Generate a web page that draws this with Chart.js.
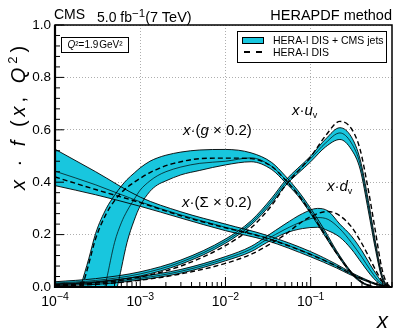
<!DOCTYPE html>
<html>
<head>
<meta charset="utf-8">
<script src="https://cdn.jsdelivr.net/npm/chart.js@4.4.0/dist/chart.umd.min.js"></script>
<style>
  body { margin:0; background:#fff; }
  #wrap { position:relative; width:399px; height:336px; overflow:hidden;
          font-family:"Liberation Sans", Arial, Helvetica, sans-serif; color:#000; }
  #wrap canvas { position:absolute; left:0; top:0; }
  .lbl { position:absolute; white-space:nowrap; line-height:1; }
  .lbl sub { font-size:9px; vertical-align:-3px; }
  .xt { position:absolute; top:291px; width:40px; margin-left:-20px; text-align:center;
        font-size:14px; line-height:1; white-space:nowrap; }
  .xt span { font-size:10.5px; vertical-align:6px; }
  #legend { position:absolute; left:237px; top:31px; width:150px; height:32px;
            border:1px solid #000; background:#fff; box-sizing:border-box; font-size:10.5px; }
  #legend .sw { position:absolute; left:4px; top:5px; width:22px; height:7px;
                background:rgb(24,198,222); border:1px solid #000; box-sizing:border-box; }
  #legend .d { position:absolute; top:19px; width:6px; height:2px; background:#000; }
  #legend .t { position:absolute; left:35px; line-height:1; white-space:nowrap; }
  #qbox { position:absolute; left:61px; top:37px; width:68px; height:16px; border:1px solid #000;
          box-sizing:border-box; font-size:10px; line-height:14px; text-align:center; background:#fff; }
</style>
</head>
<body>
<div id="wrap">
  <canvas id="c" width="399" height="336"></canvas>

  <div class="lbl" style="left:54px;top:7px;font-size:14px">CMS</div>
  <div class="lbl" style="left:97px;top:8px;font-size:14px">5.0 fb<span style="font-size:11.5px;vertical-align:5px">&minus;1</span><span style="font-size:14.5px">(7 TeV)</span></div>
  <div class="lbl" style="right:7px;top:8px;font-size:14.5px">HERAPDF method</div>

  <div id="qbox"><i>Q</i>&sup2;=1.9&#8202;GeV&sup2;</div>

  <div id="legend">
    <div class="sw"></div><div class="t" style="top:3px">HERA-I DIS + CMS jets</div>
    <div class="d" style="left:6px"></div><div class="d" style="left:18px"></div>
    <div class="t" style="top:15px">HERA-I DIS</div>
  </div>

  <div class="lbl" style="left:183px;top:122px;font-size:15px"><i>x</i>·(<i>g</i> × 0.2)</div>
  <div class="lbl" style="left:182px;top:194px;font-size:15px"><i>x</i>·(Σ × 0.2)</div>
  <div class="lbl" style="left:292px;top:102px;font-size:15px"><i>x</i>·<i>u</i><sub>v</sub></div>
  <div class="lbl" style="left:327px;top:178px;font-size:15px"><i>x</i>·<i>d</i><sub>v</sub></div>

  <div class="lbl" style="left:6px;top:190px;font-size:20px;letter-spacing:4px;transform-origin:0 0;transform:rotate(-90deg)"><i>x</i> · <i>f</i> (<i>x</i>, <i>Q</i><span style="font-size:13px;vertical-align:8px">2</span>)</div>
  <div class="lbl" style="left:377px;top:310px;font-size:22px"><i>x</i></div>
</div>

<script>
// x values of each curve, and y values
const gluonX    = [1e-4, 1.5e-4, 2e-4, 2.5e-4, 3e-4, 4e-4, 5e-4, 6e-4, 7e-4, 8.5e-4, 1e-3, 1.3e-3, 1.6e-3, 2e-3, 3e-3, 5e-3, 1e-2, 2e-2, 3.5e-2, 5e-2, 7e-2, 0.1, 0.15, 0.2, 0.3, 0.4, 0.5, 0.6, 0.75, 0.9];
const gluonUp   = [-0.5, -0.17, 0.0, 0.11, 0.205, 0.30, 0.35, 0.385, 0.41, 0.435, 0.455, 0.48, 0.493, 0.503, 0.515, 0.523, 0.525, 0.512, 0.475, 0.425, 0.37, 0.30, 0.21, 0.14, 0.058, 0.02, 0.005, 0, 0, 0];
const gluonMid  = [-1.6, -1.1, -0.7, -0.38, -0.15, 0.025, 0.17, 0.245, 0.29, 0.335, 0.37, 0.405, 0.425, 0.44, 0.458, 0.472, 0.48, 0.493, 0.46, 0.412, 0.36, 0.29, 0.2, 0.135, 0.055, 0.018, 0.004, 0, 0, 0];
const gluonLow  = [-2.5, -2.0, -1.5, -1.1, -0.75, -0.33, -0.06, 0.07, 0.17, 0.255, 0.31, 0.365, 0.39, 0.405, 0.428, 0.445, 0.466, 0.478, 0.448, 0.40, 0.35, 0.28, 0.19, 0.128, 0.05, 0.015, 0.003, 0, 0, 0];
const gluonHera = [-0.6, -0.25, -0.03, 0.09, 0.185, 0.28, 0.33, 0.36, 0.38, 0.40, 0.415, 0.437, 0.45, 0.463, 0.478, 0.49, 0.492, 0.49, 0.46, 0.41, 0.355, 0.285, 0.195, 0.13, 0.055, 0.018, 0.005, 0, 0, 0];

const sigmaX    = [1e-4, 3e-4, 1e-3, 3e-3, 1e-2, 3e-2, 0.1, 0.2, 0.3, 0.45, 0.6, 0.75, 0.9];
const sigmaUp   = [0.526, 0.44, 0.343, 0.287, 0.24, 0.198, 0.135, 0.087, 0.055, 0.028, 0.012, 0.004, 0];
const sigmaMid  = [0.442, 0.39, 0.325, 0.275, 0.228, 0.188, 0.125, 0.08, 0.05, 0.025, 0.01, 0.003, 0];
const sigmaLow  = [0.387, 0.352, 0.308, 0.263, 0.215, 0.178, 0.115, 0.073, 0.045, 0.022, 0.008, 0.002, 0];
const sigmaHera = [0.42, 0.372, 0.322, 0.272, 0.226, 0.187, 0.124, 0.08, 0.05, 0.025, 0.01, 0.003, 0];

const uvX    = [1e-4, 3e-4, 1e-3, 3e-3, 1e-2, 2e-2, 3.5e-2, 5e-2, 0.1, 0.15, 0.22, 0.3, 0.38, 0.475, 0.57, 0.68, 0.78, 0.9];
const uvUp   = [0.02, 0.032, 0.058, 0.103, 0.183, 0.253, 0.34, 0.405, 0.50, 0.565, 0.608, 0.573, 0.488, 0.33, 0.18, 0.053, 0.008, 0];
const uvMid  = [0.015, 0.025, 0.05, 0.095, 0.175, 0.245, 0.33, 0.395, 0.49, 0.55, 0.588, 0.55, 0.47, 0.31, 0.165, 0.045, 0.006, 0];
const uvLow  = [0.01, 0.018, 0.042, 0.087, 0.167, 0.237, 0.32, 0.385, 0.478, 0.535, 0.563, 0.525, 0.45, 0.29, 0.15, 0.038, 0.004, 0];
const uvHera = [0.008, 0.015, 0.038, 0.08, 0.158, 0.226, 0.312, 0.385, 0.497, 0.578, 0.632, 0.605, 0.525, 0.37, 0.22, 0.075, 0.015, 0];

const dvX    = [1e-4, 3e-4, 1e-3, 3e-3, 1e-2, 2e-2, 3e-2, 5e-2, 0.08, 0.12, 0.16, 0.22, 0.3, 0.4, 0.5, 0.6, 0.7, 0.8, 0.9];
const dvUp   = [0.012, 0.02, 0.04, 0.067, 0.116, 0.155, 0.192, 0.24, 0.28, 0.30, 0.29, 0.24, 0.195, 0.138, 0.085, 0.045, 0.015, 0.003, 0];
const dvMid  = [0.008, 0.015, 0.033, 0.06, 0.108, 0.145, 0.18, 0.22, 0.25, 0.265, 0.258, 0.222, 0.17, 0.113, 0.065, 0.03, 0.009, 0.001, 0];
const dvLow  = [0.005, 0.01, 0.027, 0.053, 0.10, 0.135, 0.168, 0.205, 0.223, 0.228, 0.215, 0.19, 0.145, 0.09, 0.048, 0.02, 0.005, 0, 0];
const dvHera = [0.005, 0.01, 0.026, 0.05, 0.09, 0.125, 0.155, 0.2, 0.25, 0.28, 0.288, 0.272, 0.23, 0.165, 0.105, 0.055, 0.02, 0.004, 0];

const xTickValues = [1e-4, 1e-3, 1e-2, 1e-1];
const xTickExp    = ['−4', '−3', '−2', '−1'];

const CYAN = 'rgb(24,198,222)';

function pts(xs, ys) { return xs.map((x, i) => ({ x: x, y: ys[i] })); }

function bandSets(xs, up, mid, low, hera) {
  const base = { pointRadius:0, cubicInterpolationMode:'monotone', borderColor:'#000' };
  return [
    Object.assign({}, base, { data: pts(xs, up),  borderWidth:0.9, fill:false }),
    Object.assign({}, base, { data: pts(xs, low), borderWidth:0.9, fill:'-1', backgroundColor:CYAN }),
    Object.assign({}, base, { data: pts(xs, mid), borderWidth:0.7, fill:false }),
    Object.assign({}, base, { data: pts(xs, hera), borderWidth:1.4, borderDash:[5,3], fill:false })
  ];
}

// frame and inward tick marks, ROOT style
const frameTicks = {
  id: 'frameTicks',
  afterDatasetsDraw(chart) {
    const ctx = chart.ctx, a = chart.chartArea;
    const xs = chart.scales.x, ys = chart.scales.y;
    ctx.save();
    ctx.strokeStyle = '#000';
    ctx.lineWidth = 1;
    ctx.beginPath();
    for (let i = 0; i <= 25; i++) {
      const py = ys.getPixelForValue(i * 0.04);
      const len = i % 5 === 0 ? 9 : 5;
      ctx.moveTo(a.left, py); ctx.lineTo(a.left + len, py);
    }
    for (let e = -4; e <= -1; e++) {
      for (let m = 1; m <= 9; m++) {
        const v = m * Math.pow(10, e);
        if (v > xs.max) continue;
        const px = xs.getPixelForValue(v);
        const len = m === 1 ? 10 : 5;
        ctx.moveTo(px, a.bottom); ctx.lineTo(px, a.bottom - len);
      }
    }
    ctx.stroke();
    ctx.lineWidth = 1.5;
    ctx.strokeRect(a.left, a.top, a.right - a.left, a.bottom - a.top);
    ctx.lineWidth = 2.2;
    ctx.beginPath();
    ctx.moveTo(a.left, a.top); ctx.lineTo(a.left, a.bottom); ctx.lineTo(a.right, a.bottom);
    ctx.stroke();
    ctx.restore();
  }
};

const tickFont = { family:'"Liberation Sans", Arial, Helvetica, sans-serif', size:13.5 };

const chart = new Chart(document.getElementById('c'), {
  type: 'line',
  data: {
    datasets: [].concat(
      bandSets(gluonX, gluonUp, gluonMid, gluonLow, gluonHera),
      bandSets(sigmaX, sigmaUp, sigmaMid, sigmaLow, sigmaHera),
      bandSets(uvX, uvUp, uvMid, uvLow, uvHera),
      bandSets(dvX, dvUp, dvMid, dvLow, dvHera)
    )
  },
  options: {
    responsive:false,
    maintainAspectRatio:false,
    devicePixelRatio:1,
    animation:false,
    layout: { padding: { top:25, right:7, left:0, bottom:0 } },
    plugins: {
      legend: { display:false },
      tooltip: { enabled:false },
      filler: { drawTime:'beforeDatasetsDraw' }
    },
    scales: {
      x: {
        type:'logarithmic',
        min:1e-4, max:0.9,
        afterFit(scale) { scale.height = 49; },
        afterBuildTicks(scale) { scale.ticks = xTickValues.map(v => ({ value:v })); },
        ticks: { display:false },
        grid: { color:'#999', lineWidth:0.8, drawTicks:false },
        border: { display:false, dash:[1,2] }
      },
      y: {
        min:0, max:1,
        afterFit(scale) { scale.width = 55; },
        ticks: { stepSize:0.2, padding:4, color:'#000', font:tickFont, callback(v) { return v.toFixed(1); } },
        grid: { color:'#999', lineWidth:0.8, drawTicks:false },
        border: { display:false, dash:[1,2] }
      }
    }
  },
  plugins: [frameTicks]
});

// x tick labels as text with real superscripts, placed on the scale's pixels
const wrap = document.getElementById('wrap');
xTickValues.forEach((v, i) => {
  const d = document.createElement('div');
  d.className = 'xt';
  d.style.left = chart.scales.x.getPixelForValue(v) + 'px';
  d.innerHTML = '10<span>' + xTickExp[i] + '</span>';
  wrap.appendChild(d);
});
</script>
</body>
</html>
